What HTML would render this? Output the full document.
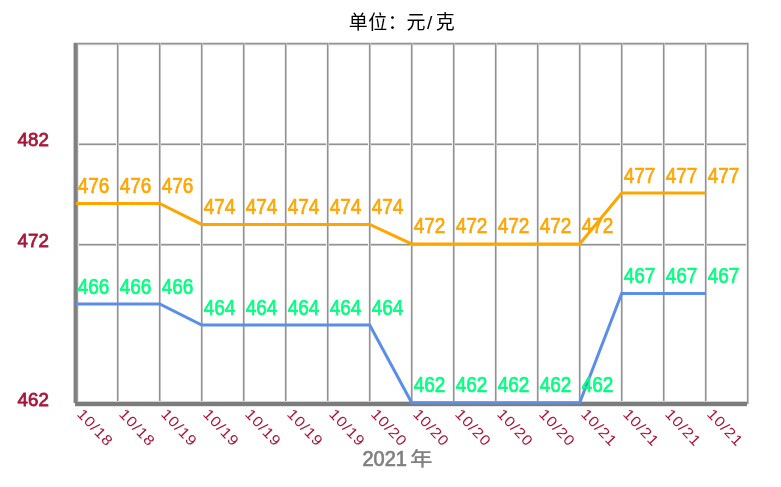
<!DOCTYPE html>
<html><head><meta charset="utf-8"><style>
html,body{margin:0;padding:0;background:#fff;width:781px;height:487px;overflow:hidden}
svg{display:block;font-family:"Liberation Sans","Noto Sans CJK SC",sans-serif}
</style></head><body>
<svg width="781" height="487" viewBox="0 0 781 487">
<rect x="74" y="42" width="675" height="1" fill="#e2e2e2"/>
<rect x="74" y="43" width="675" height="1" fill="#929292"/>
<rect x="74" y="44" width="675" height="1" fill="#c2c2c2"/>
<rect x="78" y="45" width="670" height="1" fill="#f2f2f2"/>
<rect x="78" y="143" width="670" height="1" fill="#c2c2c2"/>
<rect x="78" y="144" width="670" height="1" fill="#929292"/>
<rect x="78" y="145" width="670" height="1" fill="#ececec"/>
<rect x="78" y="243" width="670" height="1" fill="#ececec"/>
<rect x="78" y="244" width="670" height="1" fill="#929292"/>
<rect x="78" y="245" width="670" height="1" fill="#c2c2c2"/>
<rect x="116" y="45" width="1" height="357" fill="#f1f1f1"/>
<rect x="117" y="43" width="1" height="359" fill="#929292"/>
<rect x="118" y="43" width="1" height="359" fill="#c2c2c2"/>
<rect x="158" y="45" width="1" height="357" fill="#f1f1f1"/>
<rect x="159" y="43" width="1" height="359" fill="#929292"/>
<rect x="160" y="43" width="1" height="359" fill="#c2c2c2"/>
<rect x="200" y="45" width="1" height="357" fill="#f1f1f1"/>
<rect x="201" y="43" width="1" height="359" fill="#929292"/>
<rect x="202" y="43" width="1" height="359" fill="#c2c2c2"/>
<rect x="242" y="45" width="1" height="357" fill="#f1f1f1"/>
<rect x="243" y="43" width="1" height="359" fill="#929292"/>
<rect x="244" y="43" width="1" height="359" fill="#c2c2c2"/>
<rect x="284" y="45" width="1" height="357" fill="#f1f1f1"/>
<rect x="285" y="43" width="1" height="359" fill="#929292"/>
<rect x="286" y="43" width="1" height="359" fill="#c2c2c2"/>
<rect x="326" y="45" width="1" height="357" fill="#f1f1f1"/>
<rect x="327" y="43" width="1" height="359" fill="#929292"/>
<rect x="328" y="43" width="1" height="359" fill="#c2c2c2"/>
<rect x="368" y="45" width="1" height="357" fill="#f1f1f1"/>
<rect x="369" y="43" width="1" height="359" fill="#929292"/>
<rect x="370" y="43" width="1" height="359" fill="#c2c2c2"/>
<rect x="410" y="45" width="1" height="357" fill="#f1f1f1"/>
<rect x="411" y="43" width="1" height="359" fill="#929292"/>
<rect x="412" y="43" width="1" height="359" fill="#c2c2c2"/>
<rect x="452" y="45" width="1" height="357" fill="#f1f1f1"/>
<rect x="453" y="43" width="1" height="359" fill="#929292"/>
<rect x="454" y="43" width="1" height="359" fill="#c2c2c2"/>
<rect x="494" y="45" width="1" height="357" fill="#f1f1f1"/>
<rect x="495" y="43" width="1" height="359" fill="#929292"/>
<rect x="496" y="43" width="1" height="359" fill="#c2c2c2"/>
<rect x="536" y="45" width="1" height="357" fill="#f1f1f1"/>
<rect x="537" y="43" width="1" height="359" fill="#929292"/>
<rect x="538" y="43" width="1" height="359" fill="#c2c2c2"/>
<rect x="578" y="45" width="1" height="357" fill="#f1f1f1"/>
<rect x="579" y="43" width="1" height="359" fill="#929292"/>
<rect x="580" y="43" width="1" height="359" fill="#c2c2c2"/>
<rect x="620" y="45" width="1" height="357" fill="#f1f1f1"/>
<rect x="621" y="43" width="1" height="359" fill="#929292"/>
<rect x="622" y="43" width="1" height="359" fill="#c2c2c2"/>
<rect x="662" y="45" width="1" height="357" fill="#f1f1f1"/>
<rect x="663" y="43" width="1" height="359" fill="#929292"/>
<rect x="664" y="43" width="1" height="359" fill="#c2c2c2"/>
<rect x="704" y="45" width="1" height="357" fill="#f1f1f1"/>
<rect x="705" y="43" width="1" height="359" fill="#929292"/>
<rect x="706" y="43" width="1" height="359" fill="#c2c2c2"/>
<rect x="746" y="45" width="1" height="359" fill="#f1f1f1"/>
<rect x="747" y="43" width="1" height="361" fill="#929292"/>
<rect x="748" y="43" width="1" height="361" fill="#c2c2c2"/>
<rect x="73" y="43" width="1" height="360" fill="#c8c8c8"/>
<rect x="74" y="43" width="3" height="360" fill="#808080"/>
<rect x="77" y="43" width="1" height="360" fill="#9c9c9c"/>
<rect x="78" y="45" width="1" height="357" fill="#e8e8e8"/>
<rect x="78" y="401" width="669" height="1" fill="#d2d2d2"/>
<rect x="75" y="402" width="672" height="4" fill="#7c7c7c"/>
<rect x="75" y="406" width="672" height="1" fill="#e6e6e6"/>
<polyline points="75.7,203.5 117.7,203.5 159.7,203.5 201.7,224.4 243.7,224.4 285.7,224.4 327.7,224.4 369.7,224.4 411.7,243.9 453.7,243.9 495.7,243.9 537.7,243.9 579.7,243.9 621.7,193.0 663.7,193.0 705.7,193.0" fill="none" stroke="#ffa500" stroke-width="3.0" stroke-linejoin="miter"/>
<polyline points="75.7,304.0 117.7,304.0 159.7,304.0 201.7,325.0 243.7,325.0 285.7,325.0 327.7,325.0 369.7,325.0 411.7,402.8 453.7,402.8 495.7,402.8 537.7,402.8 579.7,402.8 621.7,293.5 663.7,293.5 705.7,293.5" fill="none" stroke="#5b8ee8" stroke-width="3.0" stroke-linejoin="miter"/>
<g fill="#ffa500" stroke="#ffa500" stroke-width="0.6" font-size="19"><text transform="translate(77.7,193.0) scale(1,1.15)">476</text><text transform="translate(119.7,193.0) scale(1,1.15)">476</text><text transform="translate(161.7,193.0) scale(1,1.15)">476</text><text transform="translate(203.7,213.9) scale(1,1.15)">474</text><text transform="translate(245.7,213.9) scale(1,1.15)">474</text><text transform="translate(287.7,213.9) scale(1,1.15)">474</text><text transform="translate(329.7,213.9) scale(1,1.15)">474</text><text transform="translate(371.7,213.9) scale(1,1.15)">474</text><text transform="translate(413.7,233.4) scale(1,1.15)">472</text><text transform="translate(455.7,233.4) scale(1,1.15)">472</text><text transform="translate(497.7,233.4) scale(1,1.15)">472</text><text transform="translate(539.7,233.4) scale(1,1.15)">472</text><text transform="translate(581.7,233.4) scale(1,1.15)">472</text><text transform="translate(623.7,182.5) scale(1,1.15)">477</text><text transform="translate(665.7,182.5) scale(1,1.15)">477</text><text transform="translate(707.7,182.5) scale(1,1.15)">477</text></g>
<g fill="#00ff7f" stroke="#00ff7f" stroke-width="0.6" font-size="19"><text transform="translate(77.7,293.5) scale(1,1.15)">466</text><text transform="translate(119.7,293.5) scale(1,1.15)">466</text><text transform="translate(161.7,293.5) scale(1,1.15)">466</text><text transform="translate(203.7,314.5) scale(1,1.15)">464</text><text transform="translate(245.7,314.5) scale(1,1.15)">464</text><text transform="translate(287.7,314.5) scale(1,1.15)">464</text><text transform="translate(329.7,314.5) scale(1,1.15)">464</text><text transform="translate(371.7,314.5) scale(1,1.15)">464</text><text transform="translate(413.7,392.3) scale(1,1.15)">462</text><text transform="translate(455.7,392.3) scale(1,1.15)">462</text><text transform="translate(497.7,392.3) scale(1,1.15)">462</text><text transform="translate(539.7,392.3) scale(1,1.15)">462</text><text transform="translate(581.7,392.3) scale(1,1.15)">462</text><text transform="translate(623.7,283.0) scale(1,1.15)">467</text><text transform="translate(665.7,283.0) scale(1,1.15)">467</text><text transform="translate(707.7,283.0) scale(1,1.15)">467</text></g>
<g fill="#a8183a" stroke="#a8183a" stroke-width="0.8" font-size="18.7" font-weight="normal"><text transform="translate(17.6,146.3) scale(1,0.97)">482</text><text transform="translate(17.6,246.7) scale(1,0.97)">472</text><text transform="translate(17.6,405.7) scale(1,0.97)">462</text></g>
<g fill="#a8183a" font-size="16" letter-spacing="1.0"><text transform="translate(76.2,414.7) rotate(46.5) scale(1,0.92)">10/18</text><text transform="translate(118.2,414.7) rotate(46.5) scale(1,0.92)">10/18</text><text transform="translate(160.2,414.7) rotate(46.5) scale(1,0.92)">10/19</text><text transform="translate(202.2,414.7) rotate(46.5) scale(1,0.92)">10/19</text><text transform="translate(244.2,414.7) rotate(46.5) scale(1,0.92)">10/19</text><text transform="translate(286.2,414.7) rotate(46.5) scale(1,0.92)">10/19</text><text transform="translate(328.2,414.7) rotate(46.5) scale(1,0.92)">10/19</text><text transform="translate(370.2,414.7) rotate(46.5) scale(1,0.92)">10/20</text><text transform="translate(412.2,414.7) rotate(46.5) scale(1,0.92)">10/20</text><text transform="translate(454.2,414.7) rotate(46.5) scale(1,0.92)">10/20</text><text transform="translate(496.2,414.7) rotate(46.5) scale(1,0.92)">10/20</text><text transform="translate(538.2,414.7) rotate(46.5) scale(1,0.92)">10/20</text><text transform="translate(580.2,414.7) rotate(46.5) scale(1,0.92)">10/21</text><text transform="translate(622.2,414.7) rotate(46.5) scale(1,0.92)">10/21</text><text transform="translate(664.2,414.7) rotate(46.5) scale(1,0.92)">10/21</text><text transform="translate(706.2,414.7) rotate(46.5) scale(1,0.92)">10/21</text></g>
<text x="348.7 368.2 387.7 406.6 427.0 435.8" y="29" font-size="19" font-weight="400" fill="#000" font-family="'Liberation Sans','Noto Sans CJK SC',sans-serif">单位：元/克</text>
<text transform="translate(362.5,466) scale(1,1.07)" font-size="20" font-weight="normal" letter-spacing="0" stroke="#808080" stroke-width="0.7" fill="#808080">2021</text>
<text transform="translate(410,465.5) scale(1.03,0.9)" font-size="22" font-weight="500" fill="#808080" font-family="'Liberation Sans','Noto Sans CJK SC',sans-serif">年</text>
</svg>
</body></html>
